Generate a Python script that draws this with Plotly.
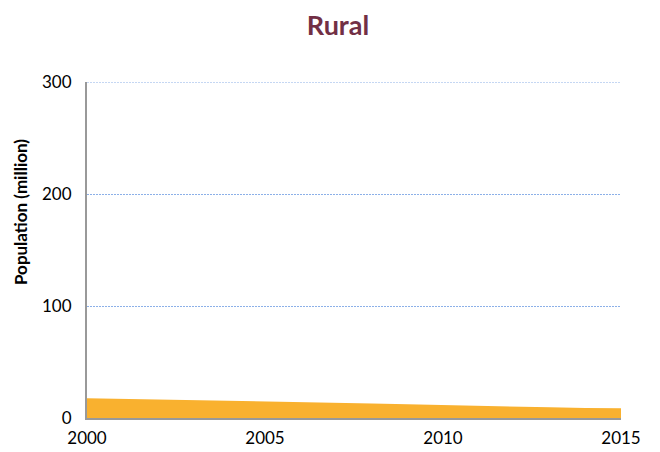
import plotly.graph_objects as go

years = list(range(2000, 2016))
rural_pop = [17.6, 17.1, 16.6, 16.1, 15.6, 15.0, 14.4, 13.7, 13.0, 12.3, 11.5, 10.8, 10.1, 9.5, 9.0, 8.6]
x_ticks = [2000, 2005, 2010, 2015]
y_ticks = [0, 100, 200, 300]

GRID = "#8CB0E8"
GRID_DASH = "2px,1px"

fig = go.Figure()
fig.add_trace(go.Scatter(
    x=years, y=rural_pop, mode="lines", fill="tozeroy",
    line=dict(color="#F9B12F", width=0), fillcolor="#F9B12F",
    hoverinfo="x+y", showlegend=False,
))

fig.update_layout(
    width=660, height=452,
    margin=dict(l=79, r=47, t=74, b=42),
    paper_bgcolor="white", plot_bgcolor="white",
    font=dict(family="Lato, Open Sans, sans-serif", size=17, color="#000000"),
    title=dict(text="<b>Rural</b>", x=0.5, xanchor="center", y=0.962, yanchor="middle",
               font=dict(size=27, color="#722F45", family="Lato, Open Sans, sans-serif")),
    xaxis=dict(range=[2000, 2015], tickvals=x_ticks, showgrid=False, zeroline=False,
               showline=True, linecolor="#999999", linewidth=2,
               ticks="outside", ticklen=4, tickcolor="rgba(0,0,0,0)",
               tickfont=dict(size=17)),
    yaxis=dict(range=[0, 300], tickvals=y_ticks, showgrid=True, gridcolor=GRID,
               griddash=GRID_DASH, gridwidth=1, zeroline=False,
               showline=True, linecolor="#999999", linewidth=2,
               ticks="outside", ticklen=10, tickcolor="rgba(0,0,0,0)",
               tickfont=dict(size=17)),
    annotations=[dict(
        text="<b>Population (million)</b>", textangle=-90,
        xref="paper", yref="paper", x=-0.1255, y=0.613,
        xanchor="center", yanchor="middle", showarrow=False,
        font=dict(size=17, color="#000000"),
    )],
    shapes=[dict(type="line", xref="paper", yref="y", x0=0, x1=1,
                 y0=y_ticks[-1], y1=y_ticks[-1], layer="below",
                 line=dict(color=GRID, width=1, dash=GRID_DASH))],
)

fig.write_html("out.html")
